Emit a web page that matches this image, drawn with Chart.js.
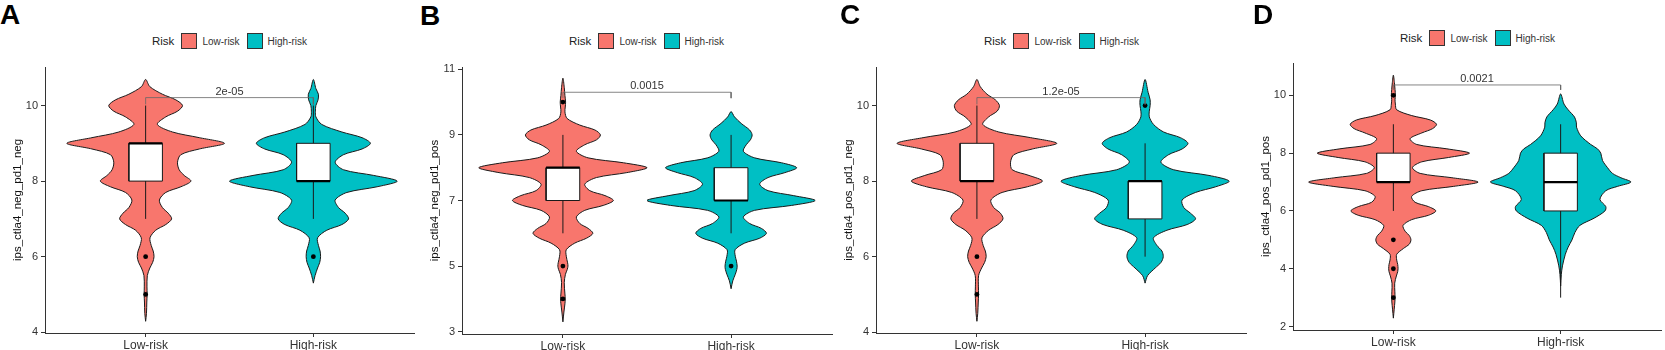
<!DOCTYPE html>
<html lang="en">
<head>
<meta charset="UTF-8">
<title>Risk groups - violin plots</title>
<script src="https://cdn.jsdelivr.net/npm/chart.js@4"></script>
<style>
  body { margin: 0; background: #fff; font-family: 'Liberation Sans', Arial, sans-serif; }
  #wrap { position: relative; width: 1665px; height: 350px; overflow: hidden; }
  canvas { position: absolute; top: 0; }
  .letter { position: absolute; font-weight: bold; font-size: 28px; line-height: 28px; color: #000; }
  .legend { position: absolute; display: flex; align-items: center; height: 16px; color: #222; white-space: nowrap; }
  .legend .ttl { font-size: 11.5px; margin-right: 7px; }
  .legend .sw { width: 14px; height: 14px; border: 1px solid #333; }
  .legend .lab { font-size: 10px; margin: 0 7px 0 5px; color: #333; }
</style>
</head>
<body>
<div id="wrap"></div>

<script>
// ---- data ----
const categories = ['Low-risk', 'High-risk'];
const panelLetters = ['A', 'B', 'C', 'D'];
const yTitles = ['ips_ctla4_neg_pd1_neg', 'ips_ctla4_neg_pd1_pos', 'ips_ctla4_pos_pd1_neg', 'ips_ctla4_pos_pd1_pos'];
const yTicks = [[4, 6, 8, 10], [3, 5, 7, 9, 11], [4, 6, 8, 10], [2, 4, 6, 8, 10]];
const yLimits = [[3.98, 11.02], [2.93, 11.07], [3.98, 11.02], [1.88, 11.12]];
const pValues = ['2e-05', '0.0015', '1.2e-05', '0.0021'];
const bracketY = [10.21, 10.3, 10.21, 10.36];
const bracketTip = [10.03, 10.12, 10.03, 10.19];

// box stats: [lower whisker, Q1, median, Q3, upper whisker]
const boxLow = [[7, 8, 9, 9, 10], [6, 7, 8, 8, 9], [7, 8, 8, 9, 10], [6, 7, 7, 8, 9]];
const boxHigh = [[7, 8, 8, 9, 10], [6, 7, 7, 8, 9], [6, 7, 8, 8, 9], [3, 6, 7, 8, 9]];
const outLow = [[6, 5], [10, 5, 4], [6, 5], [10, 5, 4, 3]];
const outHigh = [[6], [5], [10], []];

// violin outlines: [value, half width in category units]
const aLow = [[4.29,0],[4.5,0.005],[4.8,0.007],[5.0,0.009],[5.2,0.008],[5.5,0.01],[5.7,0.025],[5.85,0.042],[6.0,0.05],[6.15,0.045],[6.3,0.033],[6.5,0.026],[6.7,0.06],[6.85,0.12],[7.0,0.155],[7.15,0.135],[7.3,0.1],[7.5,0.082],[7.7,0.12],[7.85,0.21],[8.0,0.27],[8.15,0.23],[8.3,0.2],[8.5,0.19],[8.7,0.21],[8.85,0.32],[9.0,0.47],[9.15,0.32],[9.3,0.16],[9.5,0.07],[9.7,0.12],[9.85,0.19],[10.0,0.22],[10.15,0.18],[10.3,0.1],[10.5,0.025],[10.69,0]];
const aHigh = [[5.3,0],[5.5,0.01],[5.7,0.025],[5.85,0.038],[6.0,0.043],[6.15,0.04],[6.3,0.03],[6.5,0.025],[6.7,0.08],[6.85,0.17],[7.0,0.21],[7.15,0.19],[7.3,0.15],[7.5,0.13],[7.7,0.2],[7.85,0.38],[8.0,0.5],[8.15,0.36],[8.3,0.18],[8.5,0.13],[8.7,0.18],[8.85,0.29],[9.0,0.34],[9.15,0.29],[9.3,0.17],[9.5,0.05],[9.7,0.015],[9.85,0.012],[10.0,0.015],[10.15,0.028],[10.3,0.03],[10.45,0.015],[10.69,0]];
const bLow = [[3.3,0],[3.6,0.006],[3.85,0.012],[4.0,0.014],[4.15,0.012],[4.5,0.008],[4.75,0.015],[4.9,0.026],[5.0,0.03],[5.1,0.028],[5.3,0.02],[5.5,0.02],[5.7,0.07],[5.85,0.14],[6.0,0.178],[6.15,0.15],[6.3,0.1],[6.5,0.08],[6.7,0.13],[6.85,0.24],[7.0,0.3],[7.15,0.25],[7.3,0.16],[7.5,0.13],[7.7,0.2],[7.85,0.38],[8.0,0.5],[8.15,0.36],[8.3,0.15],[8.5,0.08],[8.7,0.13],[8.85,0.2],[9.0,0.223],[9.15,0.19],[9.3,0.1],[9.5,0.025],[9.7,0.012],[9.85,0.014],[10.0,0.016],[10.2,0.012],[10.45,0.008],[10.73,0]];
const bHigh = [[4.31,0],[4.55,0.01],[4.75,0.025],[4.9,0.034],[5.0,0.036],[5.15,0.032],[5.3,0.025],[5.5,0.024],[5.7,0.08],[5.85,0.17],[6.0,0.21],[6.15,0.18],[6.3,0.11],[6.5,0.073],[6.7,0.14],[6.85,0.36],[7.0,0.5],[7.15,0.37],[7.3,0.22],[7.5,0.17],[7.7,0.22],[7.85,0.32],[8.0,0.39],[8.15,0.3],[8.3,0.14],[8.5,0.073],[8.7,0.09],[8.85,0.115],[9.0,0.125],[9.15,0.11],[9.35,0.06],[9.55,0.02],[9.71,0]];
const cLow = [[4.29,0],[4.5,0.005],[4.8,0.008],[5.0,0.01],[5.2,0.009],[5.5,0.01],[5.7,0.028],[5.85,0.046],[6.0,0.055],[6.15,0.05],[6.3,0.037],[6.5,0.03],[6.7,0.07],[6.85,0.125],[7.0,0.155],[7.15,0.14],[7.3,0.1],[7.5,0.083],[7.7,0.15],[7.85,0.3],[8.0,0.39],[8.15,0.31],[8.3,0.21],[8.5,0.2],[8.7,0.22],[8.85,0.33],[9.0,0.475],[9.15,0.32],[9.3,0.13],[9.5,0.035],[9.7,0.07],[9.85,0.12],[10.0,0.134],[10.15,0.11],[10.3,0.06],[10.5,0.02],[10.69,0]];
const cHigh = [[5.3,0],[5.5,0.015],[5.7,0.06],[5.85,0.095],[6.0,0.108],[6.15,0.1],[6.3,0.07],[6.5,0.05],[6.7,0.13],[6.85,0.25],[7.0,0.3],[7.15,0.27],[7.3,0.23],[7.5,0.22],[7.7,0.3],[7.85,0.42],[8.0,0.5],[8.15,0.38],[8.3,0.17],[8.5,0.094],[8.7,0.14],[8.85,0.22],[9.0,0.255],[9.15,0.21],[9.3,0.11],[9.5,0.05],[9.7,0.025],[9.85,0.025],[10.0,0.03],[10.15,0.03],[10.35,0.018],[10.69,0]];
const dLow = [[2.29,0],[2.6,0.005],[2.85,0.009],[3.0,0.01],[3.2,0.009],[3.5,0.008],[3.75,0.018],[3.9,0.026],[4.0,0.028],[4.15,0.026],[4.3,0.02],[4.5,0.02],[4.7,0.06],[4.85,0.095],[5.0,0.105],[5.15,0.095],[5.3,0.07],[5.5,0.058],[5.7,0.11],[5.85,0.21],[6.0,0.254],[6.15,0.21],[6.3,0.13],[6.5,0.109],[6.7,0.17],[6.85,0.36],[7.0,0.507],[7.15,0.35],[7.3,0.16],[7.5,0.114],[7.7,0.17],[7.85,0.33],[8.0,0.455],[8.15,0.32],[8.3,0.14],[8.5,0.1],[8.7,0.17],[8.85,0.235],[9.0,0.258],[9.15,0.22],[9.3,0.11],[9.5,0.02],[9.7,0.012],[9.85,0.01],[10.0,0.012],[10.2,0.01],[10.45,0.006],[10.7,0]];
const dHigh = [[3.4,0],[3.8,0.004],[4.1,0.011],[4.5,0.028],[4.75,0.045],[5.0,0.068],[5.25,0.085],[5.5,0.115],[5.75,0.2],[6.0,0.265],[6.15,0.27],[6.4,0.235],[6.7,0.27],[6.85,0.34],[7.0,0.42],[7.15,0.36],[7.3,0.31],[7.5,0.28],[7.75,0.25],[8.0,0.24],[8.15,0.22],[8.3,0.18],[8.6,0.12],[8.9,0.095],[9.05,0.094],[9.25,0.083],[9.5,0.045],[9.7,0.02],[10.05,0]];

const lowProfiles = [aLow, bLow, cLow, dLow];
const highProfiles = [aHigh, bHigh, cHigh, dHigh];

// ---- layout / style ----
const FONT = "'Liberation Sans', Arial, sans-serif";
const lowColor = '#F8766D';
const highColor = '#00BFC4';
const canvasLeft = [0, 417, 831, 1248];
const canvasWidth = [418, 419, 419, 417];
const plotRight = [416.5, 834.3, 1248.6, 1663];
const plotTop = [67, 67, 67, 63];
const plotBottom = [333, 334, 333, 330];
const letterPos = [[0, 1], [420, 2], [840, 1], [1253, 1]];
const legendPos = [[152, 33], [569, 33], [984, 33], [1400, 30]];
const boxHalf = 0.1;

Chart.defaults.font.family = FONT;

const wrap = document.getElementById('wrap');

function outline(c, prof) {
  const right = prof.map(([y, w]) => ({ x: c + w, y: y }));
  const left = prof.slice(1, -1).reverse().map(([y, w]) => ({ x: c - w, y: y }));
  return right.concat(left, [right[0]]);
}

function boxRect(c, s) {
  return [
    { x: c - boxHalf, y: s[1] }, { x: c + boxHalf, y: s[1] },
    { x: c + boxHalf, y: s[3] }, { x: c - boxHalf, y: s[3] },
    { x: c - boxHalf, y: s[1] }
  ];
}

const pLabel = {
  id: 'pLabel',
  afterDatasetsDraw(chart, args, opts) {
    const i = opts.index;
    const { ctx, scales: { x, y } } = chart;
    ctx.save();
    ctx.font = '11px ' + FONT;
    ctx.fillStyle = '#333';
    ctx.textAlign = 'center';
    ctx.textBaseline = 'alphabetic';
    ctx.fillText(pValues[i], x.getPixelForValue(1.5), y.getPixelForValue(bracketY[i]) - 3);
    ctx.restore();
  }
};

function lineSet(data, opts) {
  return Object.assign({
    data: data,
    showLine: true,
    pointRadius: 0,
    borderWidth: 1,
    borderColor: '#1a1a1a',
    tension: 0,
    fill: false
  }, opts);
}

for (let i = 0; i < 4; i++) {
  // letter
  const letter = document.createElement('div');
  letter.className = 'letter';
  letter.textContent = panelLetters[i];
  letter.style.left = letterPos[i][0] + 'px';
  letter.style.top = letterPos[i][1] + 'px';
  wrap.appendChild(letter);

  // legend
  const lg = document.createElement('div');
  lg.className = 'legend';
  lg.style.left = legendPos[i][0] + 'px';
  lg.style.top = legendPos[i][1] + 'px';
  lg.innerHTML = '<span class="ttl">Risk</span>' +
    '<span class="sw" style="background:' + lowColor + '"></span><span class="lab">' + categories[0] + '</span>' +
    '<span class="sw" style="background:' + highColor + '"></span><span class="lab">' + categories[1] + '</span>';
  wrap.appendChild(lg);

  // canvas
  const cv = document.createElement('canvas');
  cv.width = canvasWidth[i];
  cv.height = 350;
  cv.style.left = canvasLeft[i] + 'px';
  wrap.appendChild(cv);

  const lo = boxLow[i], hi = boxHigh[i];
  const datasets = [
    lineSet(outline(1, lowProfiles[i]), { fill: 'shape', backgroundColor: lowColor, tension: 0.3, order: 10 }),
    lineSet(outline(2, highProfiles[i]), { fill: 'shape', backgroundColor: highColor, tension: 0.3, order: 10 }),
    lineSet([{ x: 1, y: lo[0] }, { x: 1, y: lo[4] }], { order: 8 }),
    lineSet([{ x: 2, y: hi[0] }, { x: 2, y: hi[4] }], { order: 8 }),
    lineSet(boxRect(1, lo), { fill: 'shape', backgroundColor: '#fff', order: 6 }),
    lineSet(boxRect(2, hi), { fill: 'shape', backgroundColor: '#fff', order: 6 }),
    lineSet([{ x: 1 - boxHalf, y: lo[2] }, { x: 1 + boxHalf, y: lo[2] }], { borderWidth: 2.2, borderColor: '#000', order: 5 }),
    lineSet([{ x: 2 - boxHalf, y: hi[2] }, { x: 2 + boxHalf, y: hi[2] }], { borderWidth: 2.2, borderColor: '#000', order: 5 }),
    {
      data: outLow[i].map(v => ({ x: 1, y: v })).concat(outHigh[i].map(v => ({ x: 2, y: v }))),
      pointRadius: 2.4, pointBackgroundColor: '#000', pointBorderWidth: 0, order: 4
    },
    lineSet([{ x: 1, y: bracketTip[i] }, { x: 1, y: bracketY[i] }, { x: 2, y: bracketY[i] }, { x: 2, y: bracketTip[i] }],
      { borderColor: '#666', borderWidth: 0.8, order: 3 })
  ];

  new Chart(cv, {
    type: 'scatter',
    data: { datasets: datasets },
    plugins: [pLabel],
    options: {
      responsive: false,
      animation: false,
      events: [],
      layout: { padding: { top: plotTop[i], right: canvasWidth[i] + canvasLeft[i] - plotRight[i], left: 0, bottom: 0 } },
      plugins: { legend: { display: false }, tooltip: { enabled: false }, pLabel: { index: i } },
      scales: {
        x: {
          type: 'linear', min: 0.4, max: 2.6,
          afterBuildTicks: s => { s.ticks = [{ value: 1 }, { value: 2 }]; },
          afterFit: s => { s.height = 350 - plotBottom[i]; },
          ticks: { callback: v => categories[v - 1], color: '#333', font: { size: 12 }, padding: 1, maxRotation: 0, autoSkip: false },
          grid: { drawOnChartArea: false, tickLength: 4, color: '#333' },
          border: { color: '#333', width: 1 }
        },
        y: {
          min: yLimits[i][0], max: yLimits[i][1],
          afterBuildTicks: s => { s.ticks = yTicks[i].map(v => ({ value: v })); },
          afterFit: s => { s.width = 45; },
          ticks: { callback: v => String(v), color: '#333', font: { size: 11 }, padding: 3 },
          grid: { drawOnChartArea: false, tickLength: 4, color: '#333' },
          border: { color: '#333', width: 1 },
          title: { display: true, text: yTitles[i], color: '#111', font: { size: 11.5 }, padding: { top: 11, bottom: 0 } }
        }
      }
    }
  });
}
</script>
</body>
</html>
